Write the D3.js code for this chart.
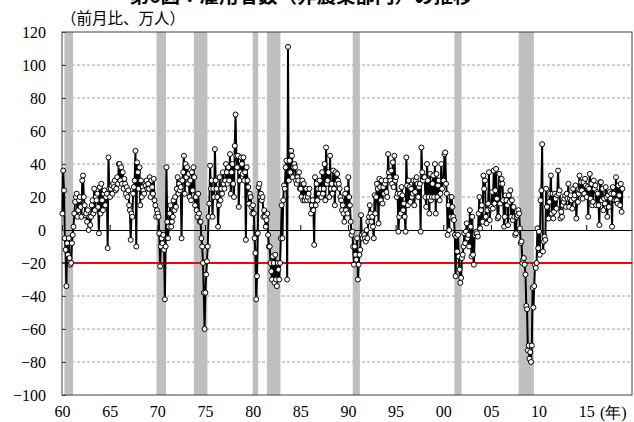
<!DOCTYPE html>
<html>
<head>
<meta charset="utf-8">
<script src="https://cdn.jsdelivr.net/npm/d3@7"></script>
<style>
  body { margin: 0; background: #fff; }
  svg text { font-family: "Liberation Serif", "Times New Roman", "DejaVu Serif", serif; }
  svg text.jp { font-family: "Noto Sans CJK JP", sans-serif; }
</style>
</head>
<body>
<svg width="634" height="422"></svg>
<script>
// monthly change, 10k persons (one row per year, Jan..Dec)
const d60s = [
  [10, 36, 24, -5, -12, -34, -8, -15, -5, -17, -21, -20],
  [-8, -3, 2, 10, 17, 20, 22, 8, 12, 18, 20, 14],
  [8, 30, 33, 20, 15, 9, 10, 5, 12, 0, 8, 3],
  [8, 15, 18, 10, 25, 12, 20, 18, 22, 14, -2, 26],
  [10, 28, 18, 12, 22, 24, 15, 20, 22, -11, 44, 25],
  [20, 25, 27, 22, 28, 26, 30, 24, 25, 32, 28, 40],
  [40, 30, 38, 28, 35, 25, 31, 28, 22, 26, 20, 24],
  [15, 12, -6, 10, 8, 22, 26, 30, 48, -10, 41, 35],
  [25, 38, 15, 30, 20, 26, 24, 22, 28, 27, 30, 25],
  [28, 25, 32, 20, 30, 26, 22, 31, 18, 15, 8, 12]
];
const d70s = [
  [10, 8, -2, -22, -10, -5, -8, -3, -12, -42, -10, 38],
  [5, -5, 2, 10, 15, 2, 5, 8, 18, 12, 20, 14],
  [25, 32, 22, 28, 24, 26, -5, 30, 35, 45, 22, 40],
  [32, 38, 28, 34, 20, 30, 18, 35, 24, 38, 32, 15],
  [20, 12, 8, 22, 10, 5, 5, -5, -10, -20, -38, -60],
  [-38, -27, -19, -10, 8, 16, 39, 25, 30, 8, 25, 20],
  [49, 30, 25, 20, 2, 15, 32, 18, 25, 22, 35, 28],
  [25, 30, 40, 35, 28, 38, 30, 46, 22, 35, 40, 28],
  [20, 51, 70, 45, 38, 45, 14, 30, 35, 44, 40, 34],
  [44, 30, 35, -6, 38, 30, 26, 16, 22, 20, 14, 10]
];
const d80s = [
  [15, 10, -5, -14, -42, -28, -2, 26, 28, 20, 22, 18],
  [20, 8, 12, 8, 2, 6, 10, -3, -10, -10, -20, -25],
  [-30, -16, -20, -32, -15, -30, -34, -20, -24, -30, -20, -5],
  [15, -5, 18, 27, 25, 38, 42, -30, 111, 30, 42, 35],
  [48, 45, 32, 38, 40, 38, 30, 28, 32, 30, 35, 25],
  [25, 20, 30, 18, 28, 18, 20, 25, 18, 20, 22, 25],
  [18, 10, 15, 18, 12, -9, 32, 15, 28, 18, 25, 22],
  [30, 25, 20, 35, 22, 25, 40, 18, 50, 28, 30, 35],
  [20, 45, 25, 28, 22, 36, 25, 15, 35, 28, 34, 30],
  [28, 25, 20, 18, 12, 15, 10, 5, 22, 12, 25, 10]
];
const d90s = [
  [32, 20, 15, 5, -3, -1, -10, -21, -10, -15, -18, -5],
  [-30, -21, -15, -12, 9, -3, -5, -2, -3, -5, -7, 0],
  [-5, 5, 8, 15, 10, 5, 8, 2, -5, 21, 10, 20],
  [28, 25, 4, 31, 26, 18, 30, 16, 26, 22, 28, 30],
  [23, 20, 46, 35, 32, 30, 36, 28, 41, 26, 45, 30],
  [32, 20, 22, -1, 8, 22, 10, 26, 21, 12, 16, 8],
  [-1, 44, 27, 15, 30, 26, 17, 25, 20, 22, 30, 15],
  [23, 30, 32, 28, 20, 26, 28, -1, 50, 35, 30, 32],
  [32, 20, 14, 40, 30, 20, 10, 34, 18, 20, 28, 33],
  [20, 40, 10, 34, 20, 27, 30, 18, 22, 40, 25, 30]
];
const d00s = [
  [30, 46, 47, 28, 22, -3, 15, 0, 20, 8, 20, 14],
  [8, 6, -3, -28, -4, -13, -3, -16, -24, -32, -29, -17],
  [-15, -10, -2, -8, -1, 4, -5, -3, -10, 12, 2, -16],
  [8, -15, -21, -3, -2, -1, -2, -4, 10, 20, 1, 12],
  [15, 5, 33, 25, 30, 8, 4, 12, 16, 35, 6, 13],
  [14, 23, 13, 36, 16, 24, 37, 19, 7, 8, 34, 16],
  [28, 31, 28, 18, 2, 8, 21, 18, 15, 3, 21, 17],
  [24, 8, 18, 6, 14, 8, -3, -2, 8, 9, 12, 10],
  [1, -8, -7, -20, -18, -17, -21, -27, -46, -48, -73, -70],
  [-78, -74, -80, -70, -35, -47, -34, -21, -23, -20, 1, -11]
];
const d10s = [
  [-1, -15, 18, 24, 52, -13, -7, -4, -6, 25, 14, 7],
  [7, 17, 22, 33, 10, 22, 7, 11, 22, 19, 13, 21],
  [36, 22, 24, 7, 11, 8, 15, 17, 19, 21, 14, 22],
  [19, 28, 14, 19, 21, 18, 13, 25, 19, 21, 27, 7],
  [17, 17, 22, 33, 24, 29, 24, 19, 29, 22, 31, 27],
  [20, 26, 8, 25, 34, 19, 28, 15, 17, 30, 25, 27],
  [15, 23, 22, 15, 3, 29, 29, 18, 25, 12, 19, 16],
  [26, 20, 8, 21, 14, 23, 19, 22, 2, 26, 22, 18],
  [18, 32, 18, 16, 27, 21, 15, 28, 11, 25]
];

// recession periods (start month, end month)
const recessions = [
  ["1960-04", "1961-02"], ["1969-12", "1970-11"], ["1973-11", "1975-03"],
  ["1980-01", "1980-07"], ["1981-07", "1982-11"], ["1990-07", "1991-03"],
  ["2001-03", "2001-11"], ["2007-12", "2009-06"]
];

const yTicks = d3.range(-100, 121, 20);
const xTicks = d3.range(1960, 2016, 5);
const refLine = -20;

const svg = d3.select("svg");
const x = d3.scaleLinear().domain([1960, 2019.8]).range([62, 632]);
const y = d3.scaleLinear().domain([-100, 120]).range([395, 32]);

const monthly = [].concat(...d60s, ...d70s, ...d80s, ...d90s, ...d00s, ...d10s);
const points = monthly.map((v, i) => ({ t: 1960 + (i + 0.5) / 12, v: v }));
const ym = s => +s.slice(0, 4) + (+s.slice(5) - 1) / 12;

// title (cut off at the top like the original)
svg.append("text")
  .attr("class", "jp")
  .attr("x", 301).attr("y", 3)
  .attr("text-anchor", "middle")
  .style("font-weight", "bold")
  .style("font-size", "19.5px")
  .text("第6図：雇用者数（非農業部門）の推移");

svg.append("text")
  .attr("class", "jp")
  .attr("x", 61).attr("y", 24)
  .style("font-size", "15.5px")
  .text("（前月比、万人）");

// gridlines
svg.append("g")
  .selectAll("line")
  .data(yTicks.filter(d => d != 0 && d != 120 && d != -100))
  .join("line")
  .attr("x1", x(1960)).attr("x2", x(2019.8))
  .attr("y1", d => y(d)).attr("y2", d => y(d))
  .attr("stroke", "#a0a0a0")
  .attr("stroke-dasharray", "3,2");

// recession bands
svg.append("g")
  .selectAll("rect")
  .data(recessions)
  .join("rect")
  .attr("x", d => x(ym(d[0])))
  .attr("width", d => x(ym(d[1]) + 1 / 12) - x(ym(d[0])))
  .attr("y", y(120))
  .attr("height", y(-100) - y(120))
  .attr("fill", "#bfbfbf");

// zero line with small ticks
svg.append("g")
  .attr("transform", `translate(0,${y(0)})`)
  .call(d3.axisTop(x).tickValues(xTicks).tickSize(5).tickSizeOuter(0).tickFormat(""))
  .call(g => g.selectAll("line, path").attr("stroke", "#000"));

// red reference line
svg.append("line")
  .attr("x1", x(1960)).attr("x2", x(2019.8))
  .attr("y1", y(refLine)).attr("y2", y(refLine))
  .attr("stroke", "#ff0000")
  .attr("stroke-width", 2.2);

// y axis
svg.append("g")
  .attr("transform", `translate(${x(1960)},0)`)
  .call(d3.axisLeft(y).tickValues(yTicks).tickSizeInner(-4).tickSizeOuter(0).tickPadding(16))
  .attr("font-family", null)
  .call(g => g.select(".domain").remove())
  .call(g => g.selectAll("line").attr("stroke", "#404040"))
  .call(g => g.selectAll("text").style("font-size", "16px").attr("fill", "#000"));

// x labels
svg.append("g")
  .attr("transform", `translate(0,${y(-100)})`)
  .call(d3.axisBottom(x).tickValues(xTicks).tickSize(0).tickPadding(11)
    .tickFormat(d => String(d % 100).padStart(2, "0")))
  .attr("font-family", null)
  .call(g => g.select(".domain").remove())
  .call(g => g.selectAll("text").style("font-size", "16px").attr("fill", "#000"));

svg.append("text")
  .attr("x", 600).attr("y", 418)
  .style("font-size", "16px")
  .text("(年)");

// plot frame
svg.append("rect")
  .attr("x", x(1960)).attr("y", y(120))
  .attr("width", x(2019.8) - x(1960))
  .attr("height", y(-100) - y(120))
  .attr("fill", "none")
  .attr("stroke", "#404040");

// series
const line = d3.line().x(d => x(d.t)).y(d => y(d.v));
svg.append("path")
  .datum(points)
  .attr("d", line)
  .attr("fill", "none")
  .attr("stroke", "#000")
  .attr("stroke-width", 2);

svg.append("g")
  .selectAll("circle")
  .data(points)
  .join("circle")
  .attr("cx", d => x(d.t))
  .attr("cy", d => y(d.v))
  .attr("r", 2.5)
  .attr("fill", "#fff")
  .attr("stroke", "#000")
  .attr("stroke-width", 1);
</script>
</body>
</html>
